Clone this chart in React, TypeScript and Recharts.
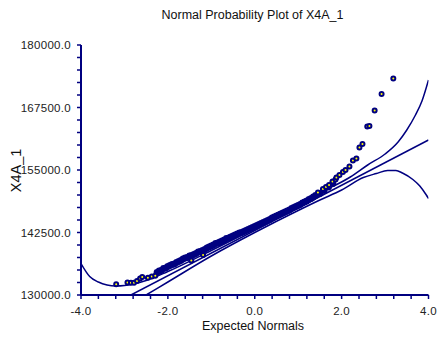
import { ComposedChart, Line, Scatter, XAxis, YAxis } from "recharts";

const NAVY = "#000080";
const FONT = '"Liberation Sans", Arial, sans-serif';

// observations that stand apart (tails and a few edge points)
const tailScores = [
  -3.19, -2.93, -2.85, -2.78, -2.71, -2.64, -2.59, -2.46, -2.37, -2.29,
  -1.46, -1.19, 1.455, 1.57, 1.64, 1.71, 1.79, 1.86, 1.88, 1.95,
  2.03, 2.09, 2.18, 2.26, 2.34, 2.41, 2.48, 2.59, 2.64, 2.76, 2.92, 3.19,
];
const tailValues = [
  132150, 132500, 132450, 132450, 132800, 133300, 133600, 133450, 133700, 133850,
  136900, 138000, 150500, 151200, 151600, 152000, 152700, 153100, 153500, 154000,
  154600, 155000, 155700, 156900, 157300, 159500, 160200, 163700, 163800, 166900, 170200, 173300,
];

// the dense middle of the plot, where the markers run together
const denseScores = [
  -2.25, -2.2, -2.15, -2.1, -2.05, -2.0, -1.95, -1.9, -1.85, -1.8,
  -1.75, -1.7, -1.65, -1.6, -1.55, -1.5, -1.45, -1.4, -1.35, -1.3,
  -1.25, -1.2, -1.15, -1.1, -1.05, -1.0, -0.95, -0.9, -0.85, -0.8,
  -0.75, -0.7, -0.65, -0.6, -0.55, -0.5, -0.45, -0.4, -0.35, -0.3,
  -0.25, -0.2, -0.15, -0.1, -0.05, 0.0, 0.05, 0.1, 0.15, 0.2,
  0.25, 0.3, 0.35, 0.4, 0.45, 0.5, 0.55, 0.6, 0.65, 0.7,
  0.75, 0.8, 0.85, 0.9, 0.95, 1.0, 1.05, 1.1, 1.15, 1.2,
  1.25, 1.3, 1.35, 1.4, 1.5, 1.6, 1.7, 1.8,
];
const denseValues = [
  134500, 134800, 134900, 135300, 135400, 135700, 135900, 136100, 136200, 136500,
  136700, 136900, 137200, 137400, 137500, 137800, 137900, 138100, 138300, 138600,
  138700, 138900, 139100, 139400, 139600, 139800, 140000, 140300, 140400, 140600,
  140800, 141000, 141300, 141400, 141600, 141800, 142000, 142200, 142400, 142500,
  142700, 142900, 143100, 143300, 143500, 143700, 143900, 144100, 144300, 144500,
  144700, 144900, 145100, 145400, 145600, 145800, 146000, 146200, 146400, 146600,
  146800, 147000, 147300, 147500, 147700, 147900, 148100, 148400, 148600, 148800,
  149100, 149300, 149600, 149900, 150300, 150900, 151600, 152300,
];

// fitted line and the two curved bands
const fitX = [-2.85, 4.0];
const fitY = [130000, 161000];
const upperX = [-4.0, -3.8, -3.6, -3.4, -3.2, -3.0, -2.8, -2.5, -2.0, -1.0, 0.0, 1.0, 1.5, 2.2, 2.6, 3.0, 3.3, 3.5, 3.7, 3.85, 4.0];
const upperY = [136300, 133700, 132600, 132000, 131800, 131900, 132200, 132900, 134700, 138900, 143300, 148000, 150400, 153600, 156000, 158200, 160600, 163000, 166000, 168800, 173000];
const lowerX = [-2.5, -2.0, -1.0, 0.0, 1.0, 1.5, 2.0, 2.5, 2.8, 3.06, 3.25, 3.4, 3.64, 3.8, 3.95, 4.0];
const lowerY = [130000, 132600, 137800, 142500, 146900, 149000, 151000, 153500, 154300, 154900, 154900, 154400, 153100, 151800, 150000, 149300];

const xTicks = [-4, -3.6, -3.2, -2.8, -2.4, -2, -1.6, -1.2, -0.8, -0.4, 0, 0.4, 0.8, 1.2, 1.6, 2, 2.4, 2.8, 3.2, 3.6, 4];
const xLabelled = [-4, -2, 0, 2, 4];
const yTicks = [
  130000, 132500, 135000, 137500, 140000, 142500, 145000, 147500, 150000, 152500, 155000,
  157500, 160000, 162500, 165000, 167500, 170000, 172500, 175000, 177500, 180000,
];
const yLabelled = [130000, 142500, 155000, 167500, 180000];

const pairs = (xs: number[], ys: number[]) => xs.map((x, i) => ({ x, y: ys[i] }));

const tailPoints = pairs(tailScores, tailValues);
const densePoints = pairs(denseScores, denseValues);
const fitLine = pairs(fitX, fitY);
const upperBand = pairs(upperX, upperY);
const lowerBand = pairs(lowerX, lowerY);

const tickStyle = { fill: "#222", fontSize: 11.5, fontFamily: FONT, letterSpacing: 0.3 };

function Dot(props: { cx?: number; cy?: number }) {
  const { cx, cy } = props;
  if (cx == null || cy == null) return null;
  return <circle cx={cx} cy={cy} r={2} fill="#ffff00" stroke={NAVY} strokeWidth={2} />;
}

function DenseDot(props: { cx?: number; cy?: number }) {
  const { cx, cy } = props;
  if (cx == null || cy == null) return null;
  return <circle cx={cx} cy={cy} r={3.4} fill={NAVY} />;
}

export default function App() {
  return (
    <div style={{ position: "absolute", left: 0, top: 0, width: 438, height: 340, background: "#fff" }}>
      <ComposedChart width={438} height={340} margin={{ top: 45, right: 9.5, bottom: 15, left: 0 }}>
        <XAxis
          dataKey="x"
          type="number"
          domain={[-4, 4]}
          ticks={xTicks}
          interval={0}
          allowDataOverflow
          tickFormatter={(v) => (xLabelled.includes(Number(v)) ? Number(v).toFixed(1) : "")}
          tick={tickStyle}
          tickSize={4}
          tickMargin={8}
          height={30}
          axisLine={{ stroke: NAVY, strokeWidth: 2 }}
          tickLine={{ stroke: NAVY, strokeWidth: 1.5 }}
        />
        <YAxis
          dataKey="y"
          type="number"
          domain={[130000, 180000]}
          ticks={yTicks}
          interval={0}
          allowDataOverflow
          tickFormatter={(v) => (yLabelled.includes(Number(v)) ? Number(v).toFixed(1) : "")}
          tick={tickStyle}
          tickSize={4}
          tickMargin={6}
          width={81}
          axisLine={{ stroke: NAVY, strokeWidth: 2 }}
          tickLine={{ stroke: NAVY, strokeWidth: 1.5 }}
        />
        <Line data={upperBand} dataKey="y" type="monotone" stroke={NAVY} strokeWidth={1.5} dot={false} activeDot={false} isAnimationActive={false} />
        <Line data={fitLine} dataKey="y" type="linear" stroke={NAVY} strokeWidth={1.5} dot={false} activeDot={false} isAnimationActive={false} />
        <Line data={lowerBand} dataKey="y" type="monotone" stroke={NAVY} strokeWidth={1.5} dot={false} activeDot={false} isAnimationActive={false} />
        <Scatter data={densePoints} dataKey="y" shape={<DenseDot />} isAnimationActive={false} />
        <Scatter data={tailPoints} dataKey="y" shape={<Dot />} isAnimationActive={false} />
      </ComposedChart>
      <svg width={438} height={340} style={{ position: "absolute", left: 0, top: 0, pointerEvents: "none" }}>
        <text x={252.5} y={18.5} textAnchor="middle" fontSize={12.5} fontFamily={FONT} fill="#111">
          Normal Probability Plot of X4A_1
        </text>
        <text x={253} y={330} textAnchor="middle" fontSize={12.5} fontFamily={FONT} fill="#111">
          Expected Normals
        </text>
        <text x={21} y={170.5} textAnchor="middle" fontSize={14.5} fontFamily={FONT} fill="#111" transform="rotate(-90 21 170.5)">
          X4A_1
        </text>
      </svg>
    </div>
  );
}
